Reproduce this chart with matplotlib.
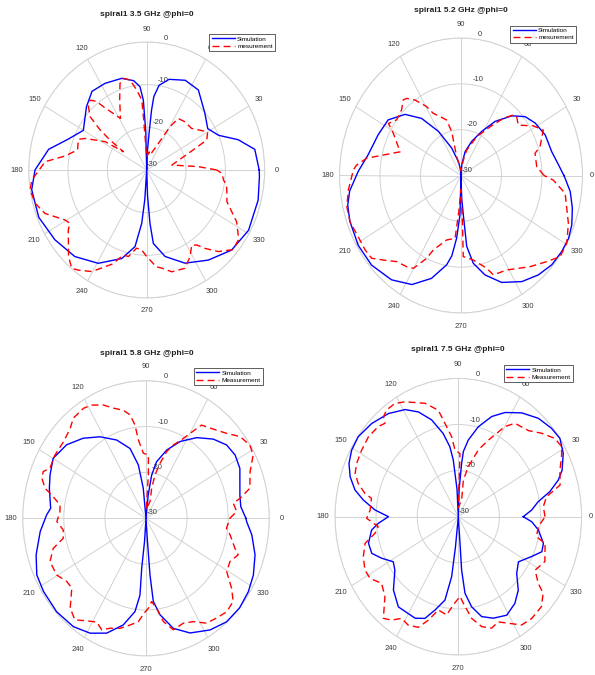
import numpy as np
import matplotlib.pyplot as plt

plt.rcParams['font.family'] = ['Liberation Sans', 'DejaVu Sans']

titles = ['spiral1 3.5 GHz @phi=0', 'spiral1 5.2 GHz @phi=0',
          'spiral1 5.8 GHz @phi=0', 'spiral1 7.5 GHz @phi=0']
meas_names = ['mesurement', 'mesurement', 'Measurement', 'Measurement']
angle_ticks = list(range(0, 360, 30))
r_ticks = [-30, -20, -10, 0]

# ---- 3.5 GHz ----
sim35_deg = [0, 10, 17, 24, 32, 42, 55, 65, 75, 81, 84, 85, 86, 88, 90, 91.5, 93, 95, 99, 106.5, 117.5, 127,
             136, 150, 160, 169, 180, 189, 202, 215, 228, 240.6, 253, 260.6, 264.2, 266, 270, 272, 273.8,
             275.6, 283, 294, 306.6, 319, 331.4, 346, 357, 360]
sim35_db = [-1.4, -2.1, -5.7, -10.0, -11.7, -10.1, -7.1, -6.8, -8.0, -9.9, -12.7, -16, -21.4, -26, -30, -21,
            -13.6, -10.4, -8.8, -7.6, -7.1, -6.9, -8.7, -11.4, -8.8, -4.6, -1.6, -0.4, -0.4, -1.5, -2.7, -4.9,
            -8.3, -11.8, -17.4, -23, -30, -24, -17.5, -12.7, -9.2, -6.1, -3.7, -1.4, -0.5, -0.8, -1.3, -1.4]
meas35_deg = [0, 3.4, 10.4, 20.2, 24.7, 30, 40.5, 49.3, 56.4, 59.7, 64.5, 76.5, 82, 90, 93.8, 94.4, 97.7,
              101.3, 105.4, 108.5, 112.7, 118.9, 126.6, 128.4, 131.3, 134.9, 139, 141.6, 143, 144.2, 147.9,
              154.7, 157.5, 165, 171, 175.7, 184.6, 189, 195.4, 201.5, 209.5, 212.6, 215.2, 225.6, 230.4,
              233.5, 239.6, 248.4, 253.4, 257.1, 262, 266.2, 270, 272.3, 276, 279.4, 285, 292.9, 298.5, 303,
              305.9, 308.9, 313.6, 319.6, 324.8, 326.8, 332, 340, 346, 350, 353, 357.7, 360]
meas35_db = [-12.2, -16.8, -23.5, -18.7, -13.2, -12.1, -15, -15.1, -15.5, -18.2, -23.1, -26.4, -25.7, -27,
             -17.5, -13.5, -11.1, -8.5, -7.7, -8.6, -12.2, -16.2, -11.5, -9.5, -8.2, -9.0, -10.9, -14.9, -18.3,
             -22.7, -17.5, -12.7, -11.2, -11.8, -9.0, -4.1, -0.7, 0, -0.6, -2.2, -6.2, -6.8, -5.6, -1.6, -0.1,
             -0.8, -2.4, -6.3, -9.2, -9.2, -11.5, -11.2, -9.7, -8.9, -7.2, -6.7, -5.3, -5.0, -6.9, -9.0, -8.3,
             -6.4, -3.6, -1.2, -1.5, -2.2, -4.1, -8.3, -9.0, -9.4, -10.3, -10.9, -12.2]

# ---- 5.2 GHz ----
sim52_deg = [0, 5.5, 13, 23, 32, 39, 46, 54.5, 62, 70.5, 79, 85, 90, 96, 102, 111, 120, 128, 136, 146, 156.5,
             169, 178, 187, 193, 200, 211, 221.5, 233, 243, 252, 259.7, 262.6, 265.5, 268.3, 270, 272, 273.8,
             275.2, 279, 285.3, 293.3, 303, 311.4, 319, 326.3, 332.7, 338.5, 345.5, 352.6, 358.7, 360]
sim52_db = [-4.6, -5.8, -7.0, -7.4, -8.4, -9.6, -11.9, -15.5, -19.1, -22.1, -24.7, -27.5, -30, -28.5, -26.9,
            -23.6, -18.9, -14.2, -10.8, -8.3, -7.7, -6.6, -4.6, -2.3, -1.3, -0.8, -0.4, -0.5, -1.5, -3.3, -6.4,
            -10.2, -12.3, -16.3, -21.4, -30, -25, -21.4, -14.5, -10.6, -7.5, -4.6, -2.4, -1.1, -0.3, -0.1,
            -0.1, -0.6, -1.6, -2.8, -4.3, -4.6]
meas52_deg = [0, 5.9, 14.8, 17.9, 26, 31.2, 37.9, 43, 45.6, 50, 56, 65.4, 75.7, 80.5, 90, 104.6, 103.7, 103.5,
              106.3, 112, 116.8, 119.5, 124.6, 128.5, 130.9, 135.7, 142.6, 147.6, 151.1, 161, 166.9, 170.8,
              175, 177.4, 186.5, 193.6, 200.2, 207.8, 214.5, 219.3, 223.9, 229.8, 236, 239.9, 244.8, 247.2,
              255.9, 263.9, 266, 270, 272, 271.8, 279.4, 287.4, 290.2, 298.7, 310.6, 318.4, 324.1, 330.5,
              338.5, 351.4, 357.5, 360]
meas52_db = [-9.5, -11.2, -11.1, -9.5, -7.4, -9.1, -12.1, -11.2, -11.5, -13.7, -17.2, -20.7, -24.3, -26.6, -29,
             -25.7, -22, -20.2, -17.4, -16.1, -14.8, -12.7, -10, -8.5, -8.2, -9.5, -10, -8.8, -10.9, -14.1,
             -10.3, -6.4, -4.1, -3.4, -2.0, -1.0, -0.8, -1.3, -1.3, -1.5, -3.4, -5.4, -6.0, -6.6, -10.0, -12.4,
             -15.5, -16.2, -22, -27, -19, -12.3, -11.3, -8.8, -6.9, -6.5, -3.8, -1.7, 0.2, 0, -1.5, -4.0, -7.2,
             -9.5]

# ---- 5.8 GHz ----
sim58_deg = [0, 6.3, 12.5, 25.5, 32.5, 39.2, 46.5, 54.9, 63.6, 71.3, 78.2, 81.7, 82.5, 84, 90, 95.8, 99.1,
             104.3, 112.7, 122.2, 131.2, 140.3, 149.9, 157.9, 164.5, 174.6, 178.3, 186.4, 196.6, 204.9, 212.6,
             223.1, 233.2, 241.5, 249.1, 256.6, 262.5, 265, 264.5, 266, 270, 274, 274.5, 275.6, 279.2, 285.5,
             293.2, 302.6, 311, 319.4, 327.3, 334.7, 343.3, 352, 358.3, 360]
sim58_db = [-5.7, -6.8, -6.6, -4.7, -4.3, -4.7, -6.2, -8.5, -11.3, -14.3, -17.4, -20.5, -22.7, -25, -30, -23.4,
            -18.2, -14.3, -11.5, -9, -6.8, -4.9, -3.9, -4.8, -5.6, -6.7, -5.8, -4.1, -2.1, -0.7, -0.4, -0.2,
            -0.5, -1.5, -3.2, -6.1, -9.5, -13.2, -19.1, -25, -30, -25, -17.6, -11.8, -8.7, -5.1, -2.8, -1.1,
            -0.1, 0, -0.4, -1.1, -2.3, -4.0, -5.5, -5.7]
meas58_deg = [0, 3.8, 8.8, 10.8, 14.5, 21.9, 27.9, 32.3, 37.9, 43.3, 51.6, 56.4, 59.9, 62.5, 67.4, 70.9, 74.1,
              77, 78.1, 75, 88, 86.5, 87.6, 92.6, 96.2, 97.5, 99.8, 103.2, 108.3, 112.8, 118.2, 122.4, 129,
              133.3, 140.3, 148.1, 155, 157.8, 161, 165.1, 167.5, 172.1, 176.1, 181.9, 187.2, 192.2, 196.2,
              202, 209.6, 215.6, 220.1, 226.7, 232, 237.2, 242.1, 246.1, 250, 255.2, 260.5, 265.3, 268.7,
              271.7, 274.3, 277.5, 280.6, 285.3, 291.7, 297.1, 302.8, 308.3, 313.9, 319.5, 323.8, 329.4,
              335.2, 340.5, 343.2, 349.9, 353.6, 360]
meas58_db = [-9.6, -7.9, -8.5, -6.7, -3.9, -2.7, -0.5, -0.1, -1.0, -3.0, -4.9, -5.6, -8.6, -10.4, -12.7, -14.6,
             -17.5, -20.3, -23.3, -26.2, -28, -20.5, -16.2, -15.8, -12.8, -9.5, -7.1, -5.8, -4.7, -3.2, -2.0,
             -1.6, -1.9, -3.1, -3.9, -3.9, -4.2, -3.0, -3.2, -4.6, -6.5, -8.9, -9.0, -8.3, -9.7, -9.4, -6.5,
             -4.8, -5.0, -6.3, -6.4, -3.1, -1.9, -3.4, -4.4, -3.4, -4.5, -5.2, -6.4, -7.4, -9.3, -10.4, -11.8,
             -10.2, -7.1, -4.8, -5.4, -4.7, -2.8, -2.3, -1.7, -2.1, -4.2, -7.2, -7.5, -6.2, -7.4, -9.2, -10.3,
             -9.6]

# ---- 7.5 GHz ----
sim75_deg = [0, 4.6, 9.5, 13.7, 18.1, 21.8, 28.3, 34.5, 40.2, 47.6, 55.6, 63.3, 69.5, 76, 81.7, 85, 86, 88, 90,
             93, 95.7, 97.7, 101.5, 107.2, 113.1, 119.1, 127.2, 136.2, 144.5, 150.9, 156.5, 161.8, 167, 171.1,
             175.9, 180, 184.2, 187.8, 194.8, 200.7, 205.8, 211.7, 216.9, 225.2, 233.3, 244.5, 249.8, 254.4,
             259.8, 262.9, 264, 270, 274.1, 274, 275.6, 279.4, 284.7, 291.1, 298.9, 306.2, 312.5, 319.1, 326.2,
             334.1, 339.5, 344.4, 351.6, 356.5, 360]
sim75_db = [-14.2, -12.1, -10.3, -7.1, -4.4, -2.8, -1.0, 0, -0.3, -1.1, -2.7, -4.7, -6.8, -9.9, -13.2, -15.8,
            -18.4, -24, -30, -24, -17.6, -14.7, -11.6, -8.0, -5.3, -3.4, -1.9, -0.8, -0.1, -0.3, -1.0, -2.3,
            -4.2, -6.6, -9.7, -13, -10.5, -8.7, -7.4, -7.5, -9.3, -11.4, -10.7, -7.6, -5.6, -5.6, -6.5, -9.0,
            -11.6, -16.9, -23.4, -30, -24.2, -18.4, -13.3, -10.2, -7.6, -6.4, -5.6, -6.7, -8.4, -11.2, -12.4,
            -10.2, -8.3, -8.5, -10.3, -12.1, -14.2]
meas75_deg = [0, 6, 11.4, 15.5, 22.2, 27.4, 31.1, 35.8, 41.7, 47.6, 55.8, 59.9, 66.3, 71.4, 77.4, 81.2, 77.3,
              90, 88.3, 93.2, 95.3, 99.1, 101.9, 108.2, 117.5, 122.1, 127, 130, 131.4, 134.9, 141.6, 148.4,
              154.9, 159.5, 163.5, 167.4, 169.3, 176.2, 180.9, 186.3, 190.1, 194.3, 200.6, 207, 211.9, 217.8,
              224.2, 230.4, 234.1, 238, 242.6, 247.9, 252, 256.5, 262.4, 266.3, 271.4, 273.7, 278.4, 283.4,
              288.5, 293.1, 297.7, 303.3, 309, 316, 321.2, 323.4, 328.2, 335.2, 344.6, 347.1, 353.7, 360]
meas75_db = [-8.9, -9.2, -8.1, -4.3, -3.3, -1.7, -0.6, -1.0, -2.8, -4.7, -5.5, -7.4, -11.9, -14.7, -18.9, -22,
             -26.3, -28, -16.3, -15.5, -12.6, -9.5, -6.4, -4.1, -1.9, -1.0, -1.0, -1.7, -3.0, -2.4, -2.1, -2.4,
             -2.7, -3.2, -4.6, -6.7, -8.5, -8.5, -7.7, -10.4, -9.4, -6.6, -5.3, -4.5, -4.7, -6.4, -5.1, -1.4,
             -2.3, -4.0, -3.5, -4.1, -6.4, -9.2, -8.5, -10.8, -12.7, -11.2, -7.7, -5.5, -4.5, -5.2, -3.9, -1.9,
             -1.6, -1.9, -3.5, -5.8, -8.0, -6.8, -8.1, -10.5, -10.4, -8.9]

sim_deg = [sim35_deg, sim52_deg, sim58_deg, sim75_deg]
sim_db = [sim35_db, sim52_db, sim58_db, sim75_db]
meas_deg = [meas35_deg, meas52_deg, meas58_deg, meas75_deg]
meas_db = [meas35_db, meas52_db, meas58_db, meas75_db]

W, H = 595, 675
# axes boxes in pixels: x0, y0 (top), width, height
boxes = [(28.7, 42, 236, 256), (339.5, 38, 243, 275), (22.7, 380.7, 246.6, 275.2), (335, 378.4, 246.6, 276.6)]
title_xy = [(146.7, 14), (460.8, 10), (146.7, 353.3), (457.8, 349.3)]
legend_xy = [(275, 34), (576, 25.7), (263, 368), (573, 365)]

grid_col = '#d2d2d2'
text_col = '#3c3c3c'

fig = plt.figure(figsize=(W / 100, H / 100), dpi=100)
for i in range(4):
    x0, y0, bw, bh = boxes[i]
    ax = fig.add_axes([x0 / W, 1 - (y0 + bh) / H, bw / W, bh / H], projection='polar')
    ax.set_aspect('auto')
    ax.plot(np.deg2rad(sim_deg[i]), sim_db[i], color='#0000ff', lw=1.0, label='Simulation',
            clip_on=False, zorder=4)
    ax.plot(np.deg2rad(meas_deg[i]), meas_db[i], color='#ff0000', lw=1.0, ls=(0, (5, 3)),
            label=meas_names[i], clip_on=False, zorder=5)
    ax.set_rlim(-30, 0)
    ax.set_yticks([-20, -10, 0])
    ax.set_yticklabels([''] * 3)
    ax.set_xticks(np.deg2rad(angle_ticks))
    ax.set_xticklabels([''] * len(angle_ticks))
    ax.grid(True, color=grid_col, lw=0.7, ls='-')
    ax.spines['polar'].set_color(grid_col)
    ax.spines['polar'].set_linewidth(0.7)
    for a in angle_ticks:
        # right-column plots sit close to the figure edge
        r_lab = 2.2 if (a == 0 and i % 2 == 1) else 3.0
        ax.text(np.deg2rad(a), r_lab, str(a), ha='center', va='center', fontsize=5.5,
                color=text_col, clip_on=False)
    for v in r_ticks:
        ax.text(np.deg2rad(82), v + 0.4, str(v), ha='left', va='bottom', fontsize=5.5,
                color=text_col, clip_on=False, zorder=3)
    lx, ly = legend_xy[i]
    leg = ax.legend(loc='upper right', bbox_to_anchor=(lx / W, 1 - ly / H), bbox_transform=fig.transFigure,
                    fontsize=4.6, handlelength=3.6, borderpad=0.35, labelspacing=0.25, handletextpad=0.4,
                    borderaxespad=0, fancybox=False, framealpha=1, edgecolor='#444444')
    leg.get_frame().set_linewidth(0.6)
    leg.set_zorder(10)
    tx, ty = title_xy[i]
    fig.text(tx / W, 1 - ty / H, titles[i], ha='center', va='center', fontsize=6, fontweight='bold',
             color='#202020')

fig.savefig('out.png', dpi=100)
